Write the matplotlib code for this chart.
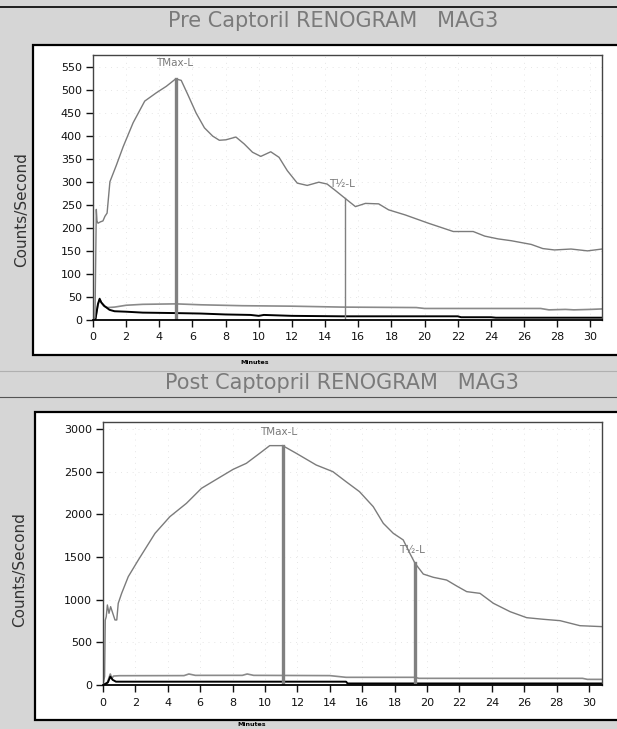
import numpy as np
from matplotlib import pyplot as plt
from matplotlib.patches import Rectangle
from matplotlib.lines import Line2D

plt.rcParams['font.family'] = ['DejaVu Sans']

# Pre captopril renogram (counts/second vs minutes)
pre_t = [0, 0.12, 0.2, 0.24, 0.3, 0.45, 0.6, 0.72, 0.85, 1.02, 1.4, 1.82, 2.42, 3.12, 3.82,
         4.42, 4.98, 5.32, 5.72, 6.22, 6.72, 7.22, 7.62, 8.02, 8.62, 9.12, 9.62, 10.12, 10.72,
         11.22, 11.72, 12.32, 12.92, 13.62, 14.12, 14.62, 15.17, 15.83, 16.43, 17.23, 17.83,
         18.83, 20.23, 21.23, 21.73, 22.93, 23.63, 24.43, 25.23, 26.43, 27.13, 27.83, 28.83,
         29.83, 30.7]
pre_kidney = [0, 5, 240, 215, 210, 213, 215, 225, 232, 300, 335, 376, 428, 475, 493,
              507, 523, 520, 489, 449, 417, 399, 390, 391, 397, 382, 364, 355, 365,
              353, 324, 297, 292, 299, 295, 281, 265, 246, 253, 252, 239, 228, 210, 198,
              192, 192, 182, 176, 172, 164, 155, 152, 154, 150, 154]

pre_bg_t = [0, 0.15, 0.28, 0.4, 0.5, 0.65, 0.9, 1.3, 2.0, 3.0, 5.0, 6.5, 9, 12, 15, 19.5,
            20, 27, 27.5, 28.5, 29, 30, 30.7]
pre_bg = [0, 3, 30, 45, 38, 30, 27, 28, 32, 34, 35, 33, 31, 30, 28, 27,
          25, 25, 22, 23, 22, 23, 24]

pre_blk_t = [0, 0.15, 0.3, 0.4, 0.5, 0.7, 1.0, 1.3, 2.0, 3.0, 5.0, 6.5, 8, 9.5, 10, 10.3,
             12, 15, 17, 20, 22, 22.2, 24, 24.3, 30.7]
pre_blk = [0, 2, 35, 46, 38, 30, 22, 19, 18, 16, 15, 14, 12, 11, 9, 11,
           9, 8, 8, 8, 8, 6, 6, 5, 5]

pre_tmax = (5.0, 523)
pre_thalf = (15.17, 265)

# Post captopril renogram
post_t = [0, 0.1, 0.14, 0.2, 0.27, 0.37, 0.47, 0.57, 0.74, 0.85, 0.94, 1.15, 1.56, 2.18,
          3.21, 4.13, 5.15, 6.08, 7.0, 8.03, 8.85, 9.67, 10.29, 11.09, 11.93, 13.16, 14.19,
          15.0, 15.83, 16.68, 17.3, 17.92, 18.53, 18.94, 19.26, 19.77, 20.39, 21.21, 21.83,
          22.45, 23.27, 24.1, 25.13, 26.15, 27.18, 28.21, 29.44, 30.8]
post_kidney = [0, 100, 760, 800, 938, 840, 918, 860, 762, 762, 957, 1074, 1270, 1465,
               1777, 1973, 2129, 2305, 2410, 2527, 2598, 2715, 2805, 2805, 2715, 2578, 2500,
               2383, 2266, 2090, 1895, 1777, 1700, 1543, 1426, 1300, 1262, 1230, 1160,
               1094, 1074, 957, 859, 789, 770, 754, 695, 684]

post_bg_t = [0, 0.25, 0.45, 0.55, 0.65, 1.0, 5.0, 5.3, 5.7, 8.6, 8.9, 9.3, 14.0, 15.0,
             19.25, 19.5, 29.6, 29.9, 30.8]
post_bg = [0, 20, 129, 78, 105, 109, 110, 129, 113, 113, 129, 113, 110, 90,
           90, 78, 78, 66, 66]

post_blk_t = [0, 0.3, 0.45, 0.6, 0.8, 15.0, 15.1, 30.8]
post_blk = [0, 30, 98, 60, 39, 39, 18, 18]

post_tmax = (11.09, 2805)
post_thalf = (19.26, 1426)

curve_col = '#7b7b7b'
bg_col = '#8a8a8a'

fig = plt.figure(figsize=(6.17, 7.29), dpi=100, facecolor='#d6d6d6')

# white panels behind each graph
fig.patches.append(Rectangle((33 / 617, 1 - 355 / 729), 0.98, 310 / 729, transform=fig.transFigure,
                             facecolor='white', edgecolor='black', lw=1.6, zorder=-5))
fig.patches.append(Rectangle((35 / 617, 1 - 720 / 729), 0.98, 308 / 729, transform=fig.transFigure,
                             facecolor='white', edgecolor='black', lw=1.6, zorder=-5))
fig.lines.append(Line2D([0, 1], [1 - 7 / 729, 1 - 7 / 729], transform=fig.transFigure, color='black', lw=1.2))
fig.lines.append(Line2D([0, 1], [1 - 371 / 729, 1 - 371 / 729], transform=fig.transFigure, color='#b0b0b0', lw=0.8))
fig.lines.append(Line2D([0, 1], [1 - 397 / 729, 1 - 397 / 729], transform=fig.transFigure, color='#555555', lw=0.8))

fig.text(333 / 617, 1 - 21 / 729, 'Pre Captoril RENOGRAM   MAG3', ha='center', va='center',
         fontsize=15, color='#7a7a7a')
fig.text(342 / 617, 1 - 383 / 729, 'Post Captopril RENOGRAM   MAG3', ha='center', va='center',
         fontsize=15, color='#7a7a7a')
fig.text(255 / 617, 1 - 362 / 729, 'Minutes', ha='center', va='center', fontsize=4.5,
         fontweight='bold', color='black')
fig.text(252 / 617, 1 - 725 / 729, 'Minutes', ha='center', va='center', fontsize=4.5,
         fontweight='bold', color='black')


def setup(ax, xmax, ymax, ystep):
    ax.set_xlim(0, xmax)
    ax.set_ylim(0, ymax)
    ax.set_xticks(np.arange(0, 31, 2))
    ax.set_yticks(np.arange(0, ymax, ystep))
    ax.tick_params(direction='out', length=5, width=1, colors='#111111', labelsize=8, pad=3)
    ax.tick_params(axis='x', pad=4)
    for s in ax.spines.values():
        s.set_color('#444444')
        s.set_linewidth(1)
    ax.spines['bottom'].set_color('black')
    ax.spines['bottom'].set_linewidth(1.3)
    ax.grid(color='#e6e6e6', linestyle=(0, (1, 5)), lw=0.7)
    ax.set_axisbelow(True)


# top graph
ax1 = fig.add_axes([93 / 617, 1 - 320 / 729, 509 / 617, 265 / 729])
setup(ax1, 30.7, 575, 50)
ax1.plot(pre_bg_t, pre_bg, color=bg_col, lw=1.2)
ax1.plot(pre_blk_t, pre_blk, color='black', lw=1.4)
ax1.plot(pre_t, pre_kidney, color=curve_col, lw=1.0)
ax1.plot([pre_tmax[0], pre_tmax[0]], [0, pre_tmax[1]], color='#808080', lw=2.4)
ax1.plot([pre_thalf[0], pre_thalf[0]], [0, pre_thalf[1]], color='#808080', lw=1.0)
ax1.text(4.9, 557, 'TMax-L', ha='center', va='center', fontsize=7.5, color='#7a7a7a')
ax1.text(15.0, 296, 'T½-L', ha='center', va='center', fontsize=7.5, color='#7a7a7a')
fig.text(22 / 617, 1 - 210 / 729, 'Counts/Second', rotation=90, ha='center', va='center',
         fontsize=11, color='#333333')

# bottom graph
ax2 = fig.add_axes([103 / 617, 1 - 685 / 729, 499 / 617, 263 / 729])
setup(ax2, 30.8, 3082, 500)
ax2.plot(post_bg_t, post_bg, color=bg_col, lw=1.2)
ax2.plot(post_blk_t, post_blk, color='black', lw=1.4)
ax2.plot(post_t, post_kidney, color=curve_col, lw=1.0)
ax2.plot([post_tmax[0], post_tmax[0]], [0, post_tmax[1]], color='#808080', lw=2.4)
ax2.plot([post_thalf[0], post_thalf[0]], [0, post_thalf[1]], color='#808080', lw=2.4)
ax2.text(10.87, 2968, 'TMax-L', ha='center', va='center', fontsize=7.5, color='#7a7a7a')
ax2.text(19.1, 1582, 'T½-L', ha='center', va='center', fontsize=7.5, color='#7a7a7a')
fig.text(20 / 617, 1 - 570 / 729, 'Counts/Second', rotation=90, ha='center', va='center',
         fontsize=11, color='#333333')

plt.savefig('out.png', dpi=100, facecolor=fig.get_facecolor())
